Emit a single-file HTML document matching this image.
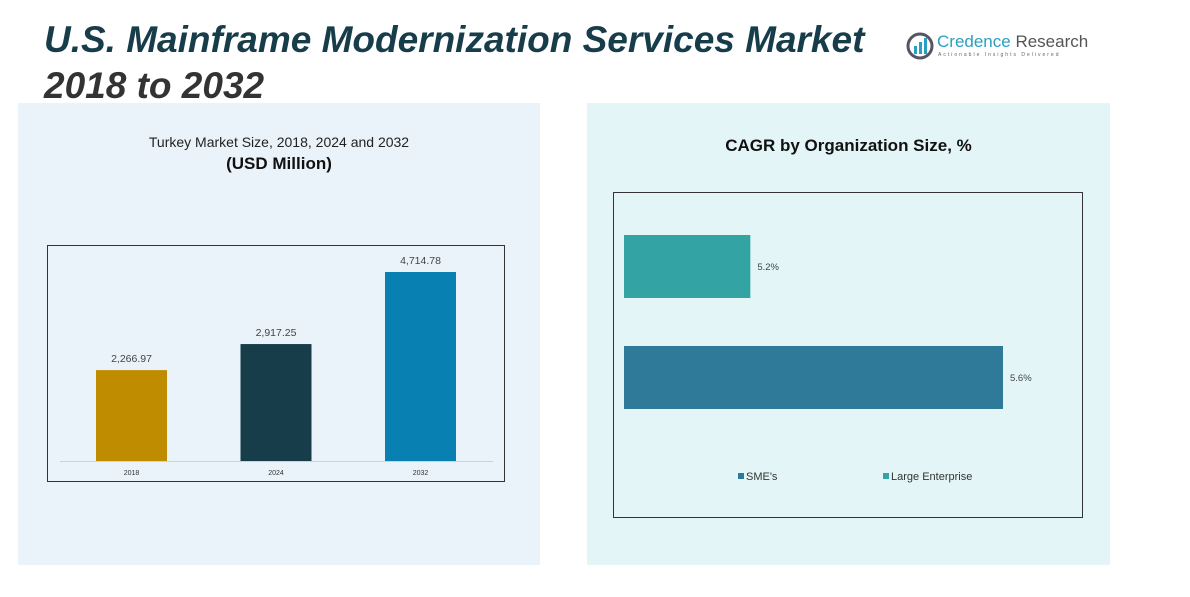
<!DOCTYPE html>
<html><head><meta charset="utf-8">
<style>
body{margin:0;width:1190px;height:597px;background:#fff;position:relative;overflow:hidden;font-family:"Liberation Sans",sans-serif}
.abs{position:absolute}
</style></head><body>
<div class="abs" style="left:44px;top:18px;font-size:37px;font-weight:bold;font-style:italic;color:#173d4a;line-height:44px;letter-spacing:0px;white-space:nowrap">U.S. Mainframe Modernization Services Market</div>
<div class="abs" style="left:44px;top:64px;font-size:37px;font-weight:bold;font-style:italic;color:#333;line-height:44px">2018 to 2032</div>
<div class="abs" style="left:906px;top:32px;width:180px;height:30px">
  <svg width="28" height="28" style="position:absolute;left:0;top:0"><circle cx="14" cy="14" r="12" fill="none" stroke="#556" stroke-width="3"/><rect x="8" y="14" width="3" height="8" fill="#2a9fc0"/><rect x="13" y="10" width="3" height="12" fill="#2a9fc0"/><rect x="18" y="6" width="3" height="16" fill="#2a9fc0"/></svg>
  <div class="abs" style="left:31px;top:0;font-size:17px;color:#555;white-space:nowrap"><span style="color:#2a9fc0">Credence</span> Research</div>
  <div class="abs" style="left:32px;top:20px;font-size:5px;letter-spacing:2px;color:#666;white-space:nowrap">Actionable Insights Delivered</div>
</div>
<div class="abs" style="left:18px;top:103px;width:522px;height:462px;background:#eaf3f9"></div>
<div class="abs" style="left:587px;top:103px;width:523px;height:462px;background:#e3f5f6"></div>
<div class="abs" style="left:18px;width:522px;top:134px;text-align:center;font-size:14px;color:#222">Turkey Market Size, 2018, 2024 and 2032</div>
<div class="abs" style="left:18px;width:522px;top:154px;text-align:center;font-size:17px;font-weight:bold;color:#111">(USD Million)</div>
<div class="abs" style="left:587px;width:523px;top:136px;text-align:center;font-size:17px;font-weight:bold;color:#111">CAGR by Organization Size, %</div>
<svg class="abs" style="left:0;top:0" width="1190" height="597" id="svg"></svg>
<script>
const years=["2018","2024","2032"];
const marketValues=[2266.97,2917.25,4714.78];
const barColors=["#bf8c00","#173c4a","#0880b2"];
const segments=["Large Enterprise","SME's"];
const cagrValues=[5.2,5.6];
const segColors=["#33a4a3","#2f7a99"];
const NS="http://www.w3.org/2000/svg";
const svg=document.getElementById('svg');
function mk(t,a,txt){const e=document.createElementNS(NS,t);for(const k in a)e.setAttribute(k,a[k]);if(txt!==undefined)e.textContent=txt;svg.appendChild(e);return e;}
let f=mk('rect',{x:47.5,y:245.5,width:457,height:236,fill:'none',stroke:'#333','stroke-width':1});


let bl=mk('line',{x1:60,x2:493,y1:461.5,y2:461.5,stroke:'#c8d4dc'});


const base=461, yMax=4714.78, hMax=189;
const yS=v=>v/yMax*hMax;
years.forEach((yr,i)=>{
  const cx=131.5+i*144.5, h=yS(marketValues[i]);
  const r=mk('rect',{x:cx-35.5,y:base-h,width:71,height:h,fill:barColors[i]});
  
  
  const t=mk('text',{x:cx,y:base-h-8,'text-anchor':'middle','font-size':10.5,fill:'#444','font-family':'Liberation Sans'},marketValues[i].toLocaleString('en-US',{minimumFractionDigits:2}));
  
  
  const l=mk('text',{x:cx,y:475,'text-anchor':'middle','font-size':7,fill:'#333','font-family':'Liberation Sans'},yr);
  
  
});
let f2=mk('rect',{x:613.5,y:192.5,width:469,height:325,fill:'none',stroke:'#333','stroke-width':1});


const x0=624, xMin=5.0, xMax=5.6, wMax=379;
const xS=v=>(v-xMin)/(xMax-xMin)*wMax;
segments.forEach((s,i)=>{
  const y=235+i*111, w=xS(cagrValues[i]);
  const r=mk('rect',{x:x0,y:y,width:w,height:63,fill:segColors[i]});
  
  
  const t=mk('text',{x:x0+w+7,y:y+35,'font-size':9.5,fill:'#444','font-family':'Liberation Sans'},cagrValues[i]+'%');
  
  
});
[[1,738],[0,883]].forEach(([i,x])=>{
  const sq=mk('rect',{x:x,y:473,width:6,height:6,fill:segColors[i]});
  
  
  const t=mk('text',{x:x+8,y:480,'font-size':11,fill:'#333','font-family':'Liberation Sans'},segments[i]);
  
  
});
</script>
</body></html>
